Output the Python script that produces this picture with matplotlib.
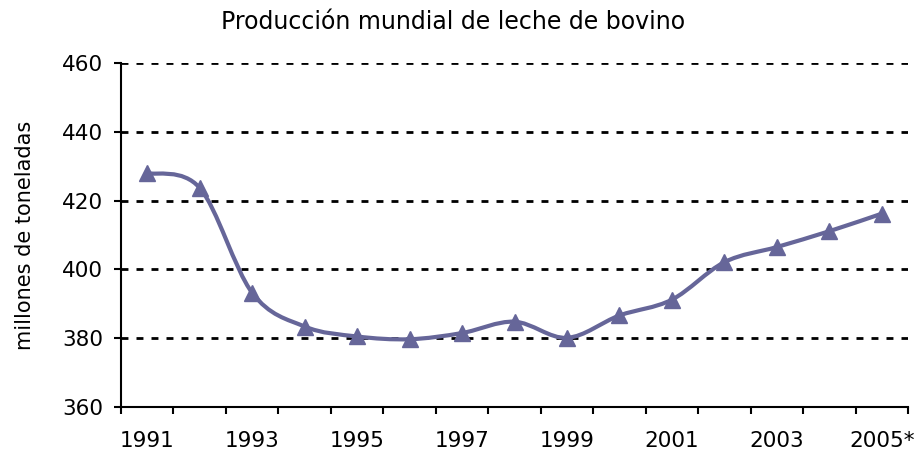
import numpy as np
import matplotlib.pyplot as plt
from matplotlib.path import Path
from matplotlib.patches import PathPatch

# data
years = ["1991", "1992", "1993", "1994", "1995", "1996", "1997", "1998",
         "1999", "2000", "2001", "2002", "2003", "2004", "2005*"]
production = [428.0, 423.7, 393.2, 383.4, 380.5, 379.7, 381.5, 384.8,
              380.1, 386.6, 391.2, 402.1, 406.5, 411.1, 416.2]

line_color = "#666699"

plt.rcParams['font.family'] = ['DejaVu Sans']

fig = plt.figure(figsize=(9.17, 4.5), dpi=100)
ax = fig.add_axes([121 / 917, 43 / 450, 787 / 917, 344 / 450])

x = np.arange(len(years)) + 0.5
y = np.array(production)

# smoothed line (Catmull-Rom as cubic bezier segments, like Excel smoothing)
verts = [(x[0], y[0])]
codes = [Path.MOVETO]
t = 1 / 6
for i in range(len(x) - 1):
    p0 = (x[max(i - 1, 0)], y[max(i - 1, 0)])
    p1 = (x[i], y[i])
    p2 = (x[i + 1], y[i + 1])
    p3 = (x[min(i + 2, len(x) - 1)], y[min(i + 2, len(x) - 1)])
    c1 = (p1[0] + (p2[0] - p0[0]) * t, p1[1] + (p2[1] - p0[1]) * t)
    c2 = (p2[0] - (p3[0] - p1[0]) * t, p2[1] - (p3[1] - p1[1]) * t)
    verts += [c1, c2, p2]
    codes += [Path.CURVE4] * 3
ax.add_patch(PathPatch(Path(verts, codes), facecolor="none",
                       edgecolor=line_color, lw=3.0, zorder=3))
ax.plot(x, y, linestyle="none", marker="^", markersize=11.5,
        color=line_color, zorder=4)

ax.set_xlim(0, len(years))
ax.set_ylim(360, 460)
ax.set_yticks(np.arange(360, 461, 20))
ax.yaxis.grid(True, color="black", linestyle=(0, (2.5, 2.9)), lw=2)
ax.set_axisbelow(True)

ax.set_xticks(np.arange(0, len(years) + 1))
ax.set_xticklabels([])
ax.set_xticks(x[::2], minor=True)
ax.set_xticklabels(years[::2], minor=True)
ax.tick_params(axis="x", which="major", length=5, width=1.5, direction="out")
ax.tick_params(axis="x", which="minor", length=0, labelsize=15.5, pad=17)
ax.tick_params(axis="y", length=5, width=1.5, labelsize=15.5, pad=8)

for side in ["top", "right"]:
    ax.spines[side].set_visible(False)
for side in ["left", "bottom"]:
    ax.spines[side].set_linewidth(1.5)

ax.set_ylabel("millones de toneladas", fontsize=15, labelpad=0)
ax.yaxis.set_label_coords(-86 / 787, (407 - 235) / 344)
fig.text(453 / 917, 1 - 22 / 450, "Producción mundial de leche de bovino",
         ha="center", va="center", fontsize=17)

fig.savefig("out.png", dpi=100)
